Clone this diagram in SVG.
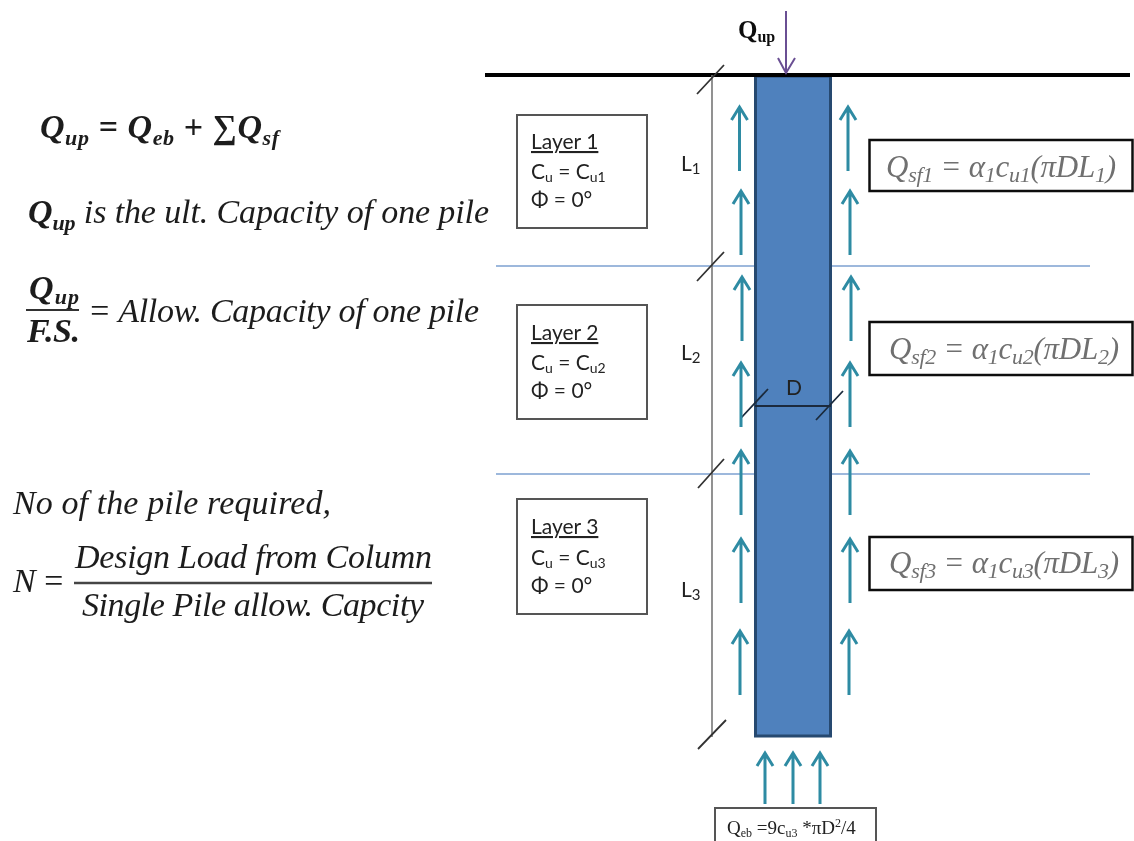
<svg xmlns="http://www.w3.org/2000/svg" width="1134" height="841" viewBox="0 0 1134 841">
<style>
.m{font-family:"Liberation Serif",serif;font-style:italic;fill:#1c1c1c;font-size:34px}
.b{font-weight:bold}
.g{fill:#6f6f6f;font-size:31px}
.s{font-size:22px}
.c{font-family:"Lato","Open Sans","Liberation Sans",sans-serif;fill:#222;font-size:21px}
.box{fill:#fff;stroke:#555;stroke-width:2}
.qbox{fill:#fff;stroke:#111;stroke-width:2.5}
.soil{stroke:#9db8dc;stroke-width:2;fill:none}
.dim{stroke:#777;stroke-width:1.6;fill:none}
.tick{stroke:#333;stroke-width:1.8;fill:none}
.ar{stroke:#2e8ba3;stroke-width:3;fill:none}
</style>
<defs>
<filter id="soft" x="-2%" y="-2%" width="104%" height="104%"><feGaussianBlur stdDeviation="0.45"/></filter>
<path id="up" class="ar" d="M0 64V0M-8 13L0 0L8 13"/>
</defs>
<rect width="1134" height="841" fill="#fff"/>
<g filter="url(#soft)">
<g id="equations">
<text class="m b" x="40" y="138" textLength="239">Q<tspan class="s" dy="7">up</tspan><tspan dy="-7"> = Q</tspan><tspan class="s" dy="7">eb</tspan><tspan dy="-7"> + ∑Q</tspan><tspan class="s" dy="7">sf</tspan></text>
<text class="m" x="28" y="223" textLength="461"><tspan class="b">Q</tspan><tspan class="s b" dy="7">up</tspan><tspan dy="-7"> is the ult. Capacity of one pile</tspan></text>
<text class="m b" x="29" y="299" textLength="50">Q<tspan class="s" dy="5">up</tspan></text>
<line x1="26" y1="310" x2="79" y2="310" stroke="#333" stroke-width="2.2"/>
<text class="m b" x="27" y="342" textLength="53">F.S.</text>
<text class="m" x="88" y="322" textLength="391">= Allow. Capacity of one pile</text>
<text class="m" x="13" y="514" textLength="318">No of the pile required,</text>
<text class="m" x="13" y="592" textLength="52">N =</text>
<text class="m" x="75" y="568" textLength="357">Design Load from Column</text>
<line x1="74" y1="583" x2="432" y2="583" stroke="#444" stroke-width="2.4"/>
<text class="m" x="82" y="616" textLength="342">Single Pile allow. Capcity</text>
</g>
<g id="soil-lines">
<line class="soil" x1="496" y1="266" x2="1090" y2="266"/>
<line class="soil" x1="496" y1="474" x2="1090" y2="474"/>
</g>
<g id="pile"><rect x="755.5" y="76" width="75" height="660" fill="#4f81bd" stroke="#27496f" stroke-width="3"/></g>
<g id="ground"><line x1="485" y1="75" x2="1130" y2="75" stroke="#000" stroke-width="4"/></g>
<g id="connectors">
<path class="dim" d="M712 75V737"/>
<path class="tick" d="M697 94L724 65M697 281L724 252M698 488L724 459M698 749L726 720"/>
<path d="M755 406H831M741 418L768 389M816 420L843 391" stroke="#1b2b3c" stroke-width="1.8" fill="none"/>
<use href="#up" x="739.500" y="107"/><use href="#up" x="848" y="107"/>
<use href="#up" x="741" y="191"/><use href="#up" x="850" y="191"/>
<use href="#up" x="742" y="277"/><use href="#up" x="851" y="277"/>
<use href="#up" x="741" y="363"/><use href="#up" x="850" y="363"/>
<use href="#up" x="741" y="451"/><use href="#up" x="850" y="451"/>
<use href="#up" x="741" y="539"/><use href="#up" x="850" y="539"/>
<use href="#up" x="740" y="631"/><use href="#up" x="849" y="631"/>
<path class="ar" d="M765 804V753M757 766L765 753L773 766M793 804V753M785 766L793 753L801 766M820 804V753M812 766L820 753L828 766"/>
<path d="M786 11V73M778 58L786 73L795 58" stroke="#6a4f93" stroke-width="2" fill="none"/>
</g>
<g id="q-up"><text x="738" y="38" font-family="Liberation Serif,serif" font-weight="bold" font-size="25" fill="#111">Q<tspan font-size="16" dy="4">up</tspan></text></g>
<g id="layer-1"><rect class="box" x="517" y="115" width="130" height="113"/>
<text class="c" x="531" y="149" text-decoration="underline" font-size="23">Layer 1</text>
<text class="c" x="531" y="179">C<tspan font-size="14" dy="3">u</tspan><tspan dy="-3"> = C</tspan><tspan font-size="14" dy="3">u1</tspan></text>
<text class="c" x="531" y="207">Φ = 0°</text></g>
<g id="layer-2"><rect class="box" x="517" y="305" width="130" height="114"/>
<text class="c" x="531" y="340" text-decoration="underline" font-size="23">Layer 2</text>
<text class="c" x="531" y="370">C<tspan font-size="14" dy="3">u</tspan><tspan dy="-3"> = C</tspan><tspan font-size="14" dy="3">u2</tspan></text>
<text class="c" x="531" y="398">Φ = 0°</text></g>
<g id="layer-3"><rect class="box" x="517" y="499" width="130" height="115"/>
<text class="c" x="531" y="534" text-decoration="underline" font-size="23">Layer 3</text>
<text class="c" x="531" y="565">C<tspan font-size="14" dy="3">u</tspan><tspan dy="-3"> = C</tspan><tspan font-size="14" dy="3">u3</tspan></text>
<text class="c" x="531" y="593">Φ = 0°</text></g>
<g id="length-labels">
<text class="c" x="681" y="171" font-size="24">L<tspan font-size="15" dy="3">1</tspan></text>
<text class="c" x="681" y="360" font-size="24">L<tspan font-size="15" dy="3">2</tspan></text>
<text class="c" x="681" y="597" font-size="24">L<tspan font-size="15" dy="3">3</tspan></text>
<text class="c" x="786" y="395" font-size="24" fill="#111">D</text>
</g>
<g id="qsf-1"><rect class="qbox" x="869.500" y="140" width="263" height="51"/>
<text class="m g" x="886" y="177" textLength="230">Q<tspan class="s" dy="5">sf1</tspan><tspan dy="-5"> = α</tspan><tspan class="s" dy="5">1</tspan><tspan dy="-5">c</tspan><tspan class="s" dy="5">u1</tspan><tspan dy="-5">(πDL</tspan><tspan class="s" dy="5">1</tspan><tspan dy="-5">)</tspan></text></g>
<g id="qsf-2"><rect class="qbox" x="869.500" y="322" width="263" height="53"/>
<text class="m g" x="889" y="359" textLength="230">Q<tspan class="s" dy="5">sf2</tspan><tspan dy="-5"> = α</tspan><tspan class="s" dy="5">1</tspan><tspan dy="-5">c</tspan><tspan class="s" dy="5">u2</tspan><tspan dy="-5">(πDL</tspan><tspan class="s" dy="5">2</tspan><tspan dy="-5">)</tspan></text></g>
<g id="qsf-3"><rect class="qbox" x="869.500" y="537" width="263" height="53"/>
<text class="m g" x="889" y="573" textLength="230">Q<tspan class="s" dy="5">sf3</tspan><tspan dy="-5"> = α</tspan><tspan class="s" dy="5">1</tspan><tspan dy="-5">c</tspan><tspan class="s" dy="5">u3</tspan><tspan dy="-5">(πDL</tspan><tspan class="s" dy="5">3</tspan><tspan dy="-5">)</tspan></text></g>
<g id="q-eb"><rect class="box" x="715" y="808" width="161" height="50"/>
<text x="727" y="834" font-family="Liberation Serif,serif" font-size="19" fill="#222">Q<tspan font-size="12" dy="3">eb</tspan><tspan dy="-3"> =9c</tspan><tspan font-size="12" dy="3">u3</tspan><tspan dy="-3"> *πD</tspan><tspan font-size="12" dy="-7">2</tspan><tspan dy="7">/4</tspan></text></g>
</g>
</svg>
